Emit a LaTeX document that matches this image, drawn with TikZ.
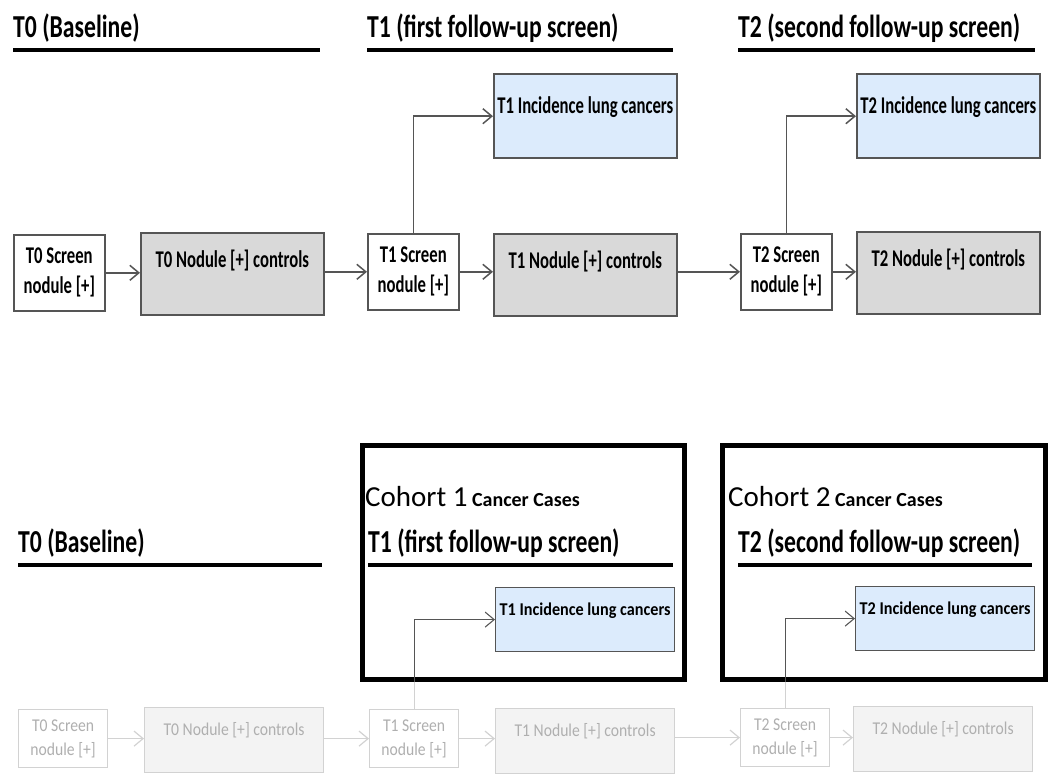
\documentclass[tikz,border=0pt]{standalone}
\usepackage{fontspec}
\setmainfont{Carlito}
\newfontfamily\hdfont[FakeStretch=0.74]{Carlito}
\newfontfamily\bxfont[FakeStretch=0.695]{Carlito}
\newfontfamily\fdfont[FakeStretch=0.90]{Carlito}
\newfontfamily\fdfontw[FakeStretch=0.87]{Carlito}
\usetikzlibrary{arrows.meta,positioning}
\definecolor{boxline}{RGB}{85,85,85}
\definecolor{nodfill}{RGB}{217,217,217}
\definecolor{incfill}{RGB}{220,235,252}
\definecolor{fadeline}{RGB}{210,210,210}
\definecolor{fadetext}{RGB}{175,175,175}
\definecolor{fadefill}{RGB}{243,243,243}

\begin{document}
\begin{tikzpicture}[x=1pt, y=-1pt,
          screenbox/.style={draw=boxline, line width=1.6pt, fill=white, align=flush center,
                      inner sep=0pt, minimum width=91pt, minimum height=76pt, anchor=north west,
                      font=\bxfont\bfseries\fontsize{24}{30}\selectfont},
          nodbox/.style={screenbox, fill=nodfill, minimum width=183pt, minimum height=82pt,
                      text height=35pt, text depth=47pt},
          incbox/.style={nodbox, fill=incfill, minimum height=84pt, text height=39pt, text depth=45pt},
          fscreen/.style={draw=fadeline, line width=1.2pt, fill=white, text=fadetext, align=flush center,
                      inner sep=0pt, minimum width=89pt, minimum height=58pt, anchor=north west,
                      font=\fdfontw\fontsize{18}{24}\selectfont},
          fnod/.style={fscreen, fill=fadefill, minimum width=179pt, minimum height=65pt,
                      text height=28pt, text depth=37pt},
          inclow/.style={draw=boxline, line width=1.2pt, fill=incfill, inner sep=0pt, anchor=north west,
                      minimum width=179pt, minimum height=64pt, text height=28pt, text depth=36pt,
                      font=\fdfont\bfseries\fontsize{18}{24}\selectfont},
          headline/.style={anchor=south west, inner sep=0pt, text width=#1, align=flush left,
                      text depth=12pt, font=\hdfont\bfseries\fontsize{32}{32}\selectfont},
          rule/.style={line width=4.5pt},
          cohortbox/.style={draw=black, line width=4.5pt, inner sep=0pt, anchor=north west},
          cohorttitle/.style={anchor=base west, inner sep=0pt, font=\fontsize{29}{29}\selectfont},
          fl/.style={-{Straight Barb[length=9pt,width=15pt]}, draw=boxline, line width=1.5pt},
          ffl/.style={fl, draw=fadeline, line width=1.2pt}
        ]
        \useasboundingbox (0,0) rectangle (1050,782);

        % upper diagram
        \node[headline=307pt] (hA) at (13,50) {T0 (Baseline)};
        \node[headline=306pt] (hB) at (367,50) {T1 (first follow-up screen)};
        \node[headline=297pt] (hC) at (738,50) {T2 (second follow-up screen)};
        \draw[rule] (hA.south west) -- (hA.south east);
        \draw[rule] (hB.south west) -- (hB.south east);
        \draw[rule] (hC.south west) -- (hC.south east);

        \node[screenbox] (scrA) at (13,234) {T0 Screen\\nodule [+]};
        \node[nodbox] (nodA) at (140,232) {T0 Nodule [+] controls};
        \node[screenbox] (scrB) at (367,233) {T1 Screen\\nodule [+]};
        \node[nodbox] (nodB) at (493,233) {T1 Nodule [+] controls};
        \node[incbox, above=74pt of nodB] (incB) {T1 Incidence lung cancers};
        \node[screenbox] (scrC) at (740,233) {T2 Screen\\nodule [+]};
        \node[nodbox] (nodC) at (856,231) {T2 Nodule [+] controls};
        \node[incbox, above=72pt of nodC] (incC) {T2 Incidence lung cancers};

        \draw[fl] (scrA.east) -- (scrA.east -| nodA.west);
        \draw[fl] (nodA.east |- scrB.west) -- (scrB.west);
        \draw[fl] (scrB.east) -- (scrB.east -| nodB.west);
        \draw[fl] (nodB.east |- scrC.west) -- (scrC.west);
        \draw[fl] (scrC.east) -- (scrC.east -| nodC.west);
        \draw[fl] (scrB.north) |- (incB.west);
        \draw[fl] (scrC.north) |- (incC.west);

        % lower diagram: cohorts
        \node[headline=304pt] (hD) at (18,565) {T0 (Baseline)};
        \draw[rule] (hD.south west) -- (hD.south east);

        \node[cohortbox, minimum width=322pt, minimum height=234pt] (coh1) at (360,443) {};
        \node[cohorttitle] (ct1) at (365,506) {Cohort 1\hspace{-2pt} {\bfseries\fontsize{20}{20}\selectfont Cancer Cases}};
        \node[headline=305pt] (hE) at (368,565) {T1 (first follow-up screen)};
        \draw[rule] (hE.south west) -- (hE.south east);
        \node[inclow] (incE) at (495,587) {T1 Incidence lung cancers};

        \node[cohortbox, minimum width=323pt, minimum height=234pt] (coh2) at (720,443) {};
        \node[cohorttitle] (ct2) at (728,506) {Cohort 2\hspace{-2pt} {\bfseries\fontsize{20}{20}\selectfont Cancer Cases}};
        \node[headline=294pt] (hF) at (738,565) {T2 (second follow-up screen)};
        \draw[rule] (hF.south west) -- (hF.south east);
        \node[inclow] (incF) at (855,586) {T2 Incidence lung cancers};

        \node[fscreen] (scrD) at (18,709) {T0 Screen\\nodule [+]};
        \node[fnod] (nodD) at (144,707) {T0 Nodule [+] controls};
        \node[fscreen] (scrE) at (369,709) {T1 Screen\\nodule [+]};
        \node[fnod] (nodE) at (495,708) {T1 Nodule [+] controls};
        \node[fscreen] (scrF) at (740,708) {T2 Screen\\nodule [+]};
        \node[fnod] (nodF) at (853,706) {T2 Nodule [+] controls};

        \draw[ffl] (scrD.east) -- (scrD.east -| nodD.west);
        \draw[ffl] (nodD.east |- scrE.west) -- (scrE.west);
        \draw[ffl] (scrE.east) -- (scrE.east -| nodE.west);
        \draw[ffl] (nodE.east |- scrF.west) -- (scrF.west);
        \draw[ffl] (scrF.east) -- (scrF.east -| nodF.west);
        \draw[draw=fadeline, line width=1.2pt] (scrE.north) -- (scrE.north |- coh1.south);
        \draw[draw=fadeline, line width=1.2pt] (scrF.north) -- (scrF.north |- coh2.south);
        \draw[fl, line width=1.1pt] (scrE.north |- coh1.south) |- (incE.west);
        \draw[fl, line width=1.1pt] (scrF.north |- coh2.south) |- (incF.west);
      \end{tikzpicture}
\end{document}
